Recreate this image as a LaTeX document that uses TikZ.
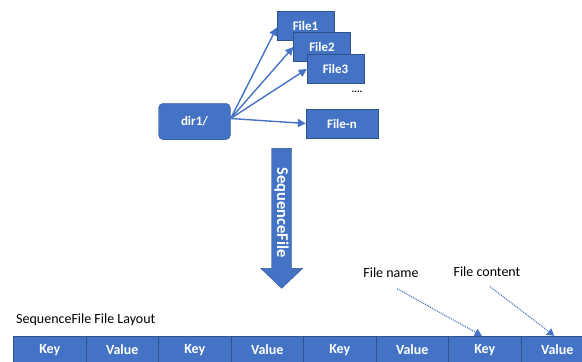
\documentclass[tikz,border=0pt]{standalone}
\usepackage{fontspec}
\setmainfont{Carlito}
\usetikzlibrary{arrows.meta,positioning,calc}
\definecolor{boxblue}{HTML}{4472C4}
\definecolor{edgeblue}{HTML}{2F528F}

\begin{document}
\begin{tikzpicture}[x=1pt,y=-1pt,
    filebox/.style={draw=edgeblue, fill=boxblue, text=white, font=\bfseries\fontsize{13}{15}\selectfont,
        minimum width=57pt, minimum height=29pt, inner sep=0pt},
    cell/.style={draw=edgeblue, fill=boxblue, text=white, font=\bfseries\fontsize{14}{16}\selectfont,
        minimum width=72.5pt, minimum height=28pt, inner sep=0pt},
    link/.style={boxblue, line width=1.4pt, -{Triangle[length=8pt,width=8pt]}},
    hint/.style={boxblue, line width=1.1pt, dash pattern=on 1pt off 1pt, -{Triangle[length=7pt,width=8pt]}},
    lbl/.style={font=\fontsize{14}{16}\selectfont, inner sep=0pt}]
\clip (0,0) rectangle (582,362);

% directory and its files
\node[filebox, rounded corners=5pt, minimum width=72pt, minimum height=36.5pt] (dir1) at (194.5,121.5) {dir1/};
\node[filebox] (file1) at (305.5,25.5) {File1};
\node[filebox] (file2) at (322,47) {File2};
\node[filebox] (file3) at (335.5,69) {File3};
\node[font=\bfseries\fontsize{10}{12}\selectfont, inner sep=0pt] (dots) at (357,92) {....};
\node[filebox, minimum width=72pt] (filen) at (342,123.5) {File-n};

\coordinate (out) at ([yshift=3pt]dir1.east);
\draw[link] (out) -- ([yshift=-2pt]file1.west);
\draw[link] (out) -- (file2.west);
\draw[link] (out) -- (file3.west);
\draw[link] (out) -- (filen.west);

% big down arrow
\fill[boxblue, draw=edgeblue, line width=0.4pt] (271.7,148.3) -- (291.7,148.3) -- (291.7,268.3) -- (302.7,268.3)
    -- (281.7,288.3) -- (260.7,268.3) -- (271.7,268.3) -- cycle;
\node[rotate=-90, text=white, font=\bfseries\fontsize{16.5}{18}\selectfont, inner sep=0pt] (seq) at (281.5,212.8) {SequenceFile};

% file layout
\node[lbl, anchor=west] (layout) at (16,320) {SequenceFile File Layout};
\foreach \i/\t in {1/Key,2/Value,3/Key,4/Value,5/Key,6/Value,7/Key,8/Value}
    \node[cell] (c\i) at ({13.5+72.5*(\i-0.5)},350) {\t};

\node[lbl] (fname) at (391,272.5) {File name};
\node[lbl] (fcontent) at (487,271.5) {File content};
\draw[hint] ([shift={(6,11)}]fname.south) -- ([xshift=-3pt]c7.north);
\draw[hint] ([shift={(3,10)}]fcontent.south) -- ([xshift=-3pt]c8.north);
\end{tikzpicture}
\end{document}
